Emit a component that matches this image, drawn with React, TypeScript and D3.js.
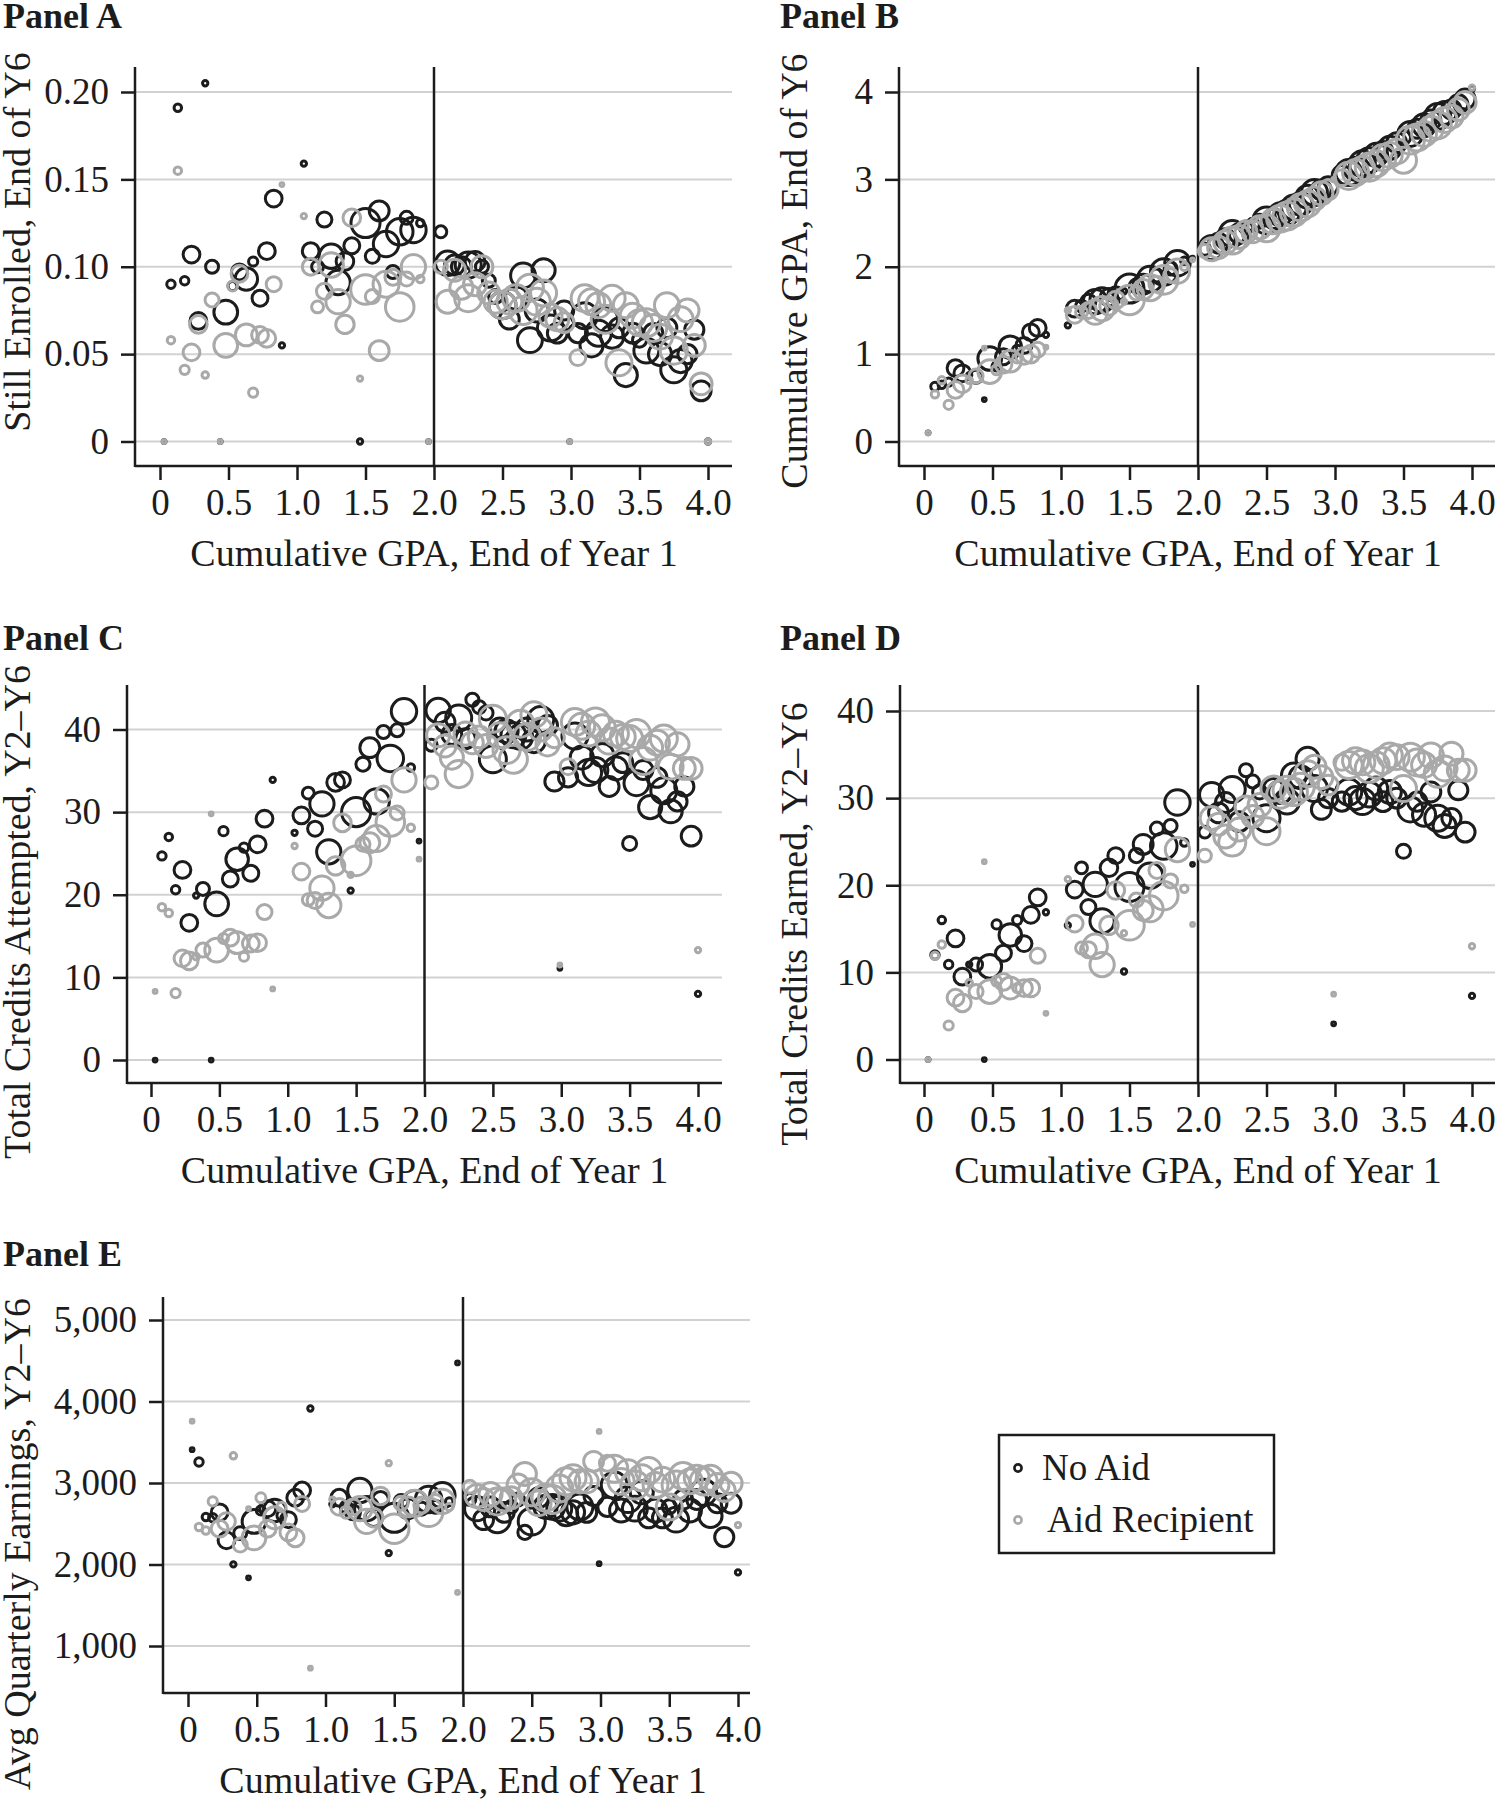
import React, { useEffect, useRef } from 'react'
import * as d3 from 'd3'

// GPA bins, end of year 1 (shared by every panel)
const gpaBins = [
  0.03, 0.08, 0.13, 0.18, 0.23, 0.28, 0.33, 0.38, 0.44, 0.48, 0.53, 0.58, 0.63, 0.68, 0.73, 0.78, 0.83, 0.89,
  1.05, 1.1, 1.15, 1.2, 1.25, 1.3, 1.35, 1.4, 1.46, 1.5, 1.55, 1.6, 1.65, 1.7, 1.75, 1.8, 1.85, 1.9, 1.96,
  2.05, 2.1, 2.15, 2.2, 2.25, 2.3, 2.35, 2.4, 2.45, 2.5, 2.55, 2.6, 2.65, 2.7, 2.75, 2.8, 2.85, 2.9, 2.95, 2.99,
  3.05, 3.1, 3.15, 3.2, 3.25, 3.3, 3.35, 3.4, 3.45, 3.5, 3.55, 3.6, 3.65, 3.7, 3.75, 3.8, 3.85, 3.9, 3.95, 4.0,
]

// bin counts (marker size)
const noAidN = [
  1, 5, 4, 5, 20, 20, 2, 12, 1, 40, 6, 18, 36, 6, 18, 20, 20, 2,
  2, 20, 10, 16, 42, 42, 22, 18, 2, 60, 14, 28, 46, 12, 50, 12, 46, 4, 1,
  10, 42, 28, 28, 48, 28, 12, 12, 14, 52, 28, 38, 44, 44, 38, 38, 48, 28, 26, 1,
  26, 48, 38, 48, 44, 38, 28, 38, 28, 14, 44, 26, 38, 28, 48, 38, 26, 26, 28, 2,
]
const aidN = [
  1, 4, 4, 6, 20, 22, 3, 14, 1, 40, 7, 20, 34, 6, 20, 22, 16, 1,
  2, 20, 10, 18, 42, 42, 24, 22, 2, 62, 14, 28, 48, 18, 58, 14, 42, 4, 1,
  12, 38, 34, 38, 52, 38, 34, 34, 38, 52, 44, 52, 56, 52, 52, 48, 38, 38, 28, 1,
  18, 52, 48, 44, 56, 48, 48, 44, 44, 48, 56, 52, 44, 44, 52, 44, 38, 34, 34, 2,
]

// Panel A: still enrolled, end of Y6
const enrolledNoAid = [
  0, 0.09, 0.191, 0.092, 0.107, 0.069, 0.205, 0.1, 0, 0.074, 0.089, 0.097, 0.093, 0.103, 0.082, 0.109, 0.139, 0.055,
  0.159, 0.109, 0.1, 0.127, 0.106, 0.091, 0.103, 0.112, 0, 0.125, 0.106, 0.132, 0.113, 0.097, 0.12, 0.128, 0.121, 0.125, 0,
  0.12, 0.102, 0.101, 0.1, 0.101, 0.103, 0.1, 0.092, 0.083, 0.078, 0.07, 0.082, 0.095, 0.058, 0.075, 0.098, 0.065, 0.062, 0.075, 0,
  0.062, 0.072, 0.055, 0.062, 0.07, 0.06, 0.065, 0.038, 0.062, 0.058, 0.052, 0.062, 0.05, 0.065, 0.041, 0.046, 0.05, 0.064, 0.029, 0,
]
const enrolledAid = [
  0, 0.058, 0.155, 0.041, 0.051, 0.067, 0.038, 0.081, 0, 0.055, 0.089, 0.096, 0.061, 0.028, 0.061, 0.059, 0.09, 0.147,
  0.129, 0.1, 0.077, 0.086, 0.101, 0.08, 0.067, 0.128, 0.036, 0.087, 0.083, 0.052, 0.09, 0.094, 0.077, 0.093, 0.1, 0.093, 0,
  0.1, 0.08, 0.098, 0.088, 0.082, 0.09, 0.1, 0.085, 0.08, 0.078, 0.08, 0.082, 0.075, 0.088, 0.08, 0.085, 0.072, 0.07, 0.068, 0,
  0.048, 0.082, 0.08, 0.078, 0.07, 0.082, 0.045, 0.078, 0.072, 0.068, 0.068, 0.065, 0.06, 0.078, 0.052, 0.07, 0.075, 0.055, 0.033, 0,
]

// Panel B: cumulative GPA, end of Y6
const gpaY6NoAid = [
  0.1, 0.63, 0.65, 0.68, 0.84, 0.78, 0.76, 0.74, 0.48, 0.95, 0.86, 0.97, 1.08, 1.05, 1.1, 1.25, 1.3, 1.22,
  1.33, 1.52, 1.55, 1.6, 1.6, 1.62, 1.65, 1.68, 1.72, 1.75, 1.78, 1.8, 1.86, 1.9, 1.94, 1.98, 2.04, 2.07, 2.1,
  2.2, 2.22, 2.27, 2.32, 2.38, 2.38, 2.45, 2.48, 2.52, 2.53, 2.55, 2.6, 2.62, 2.68, 2.72, 2.8, 2.85, 2.88, 2.92, 3.0,
  3.05, 3.08, 3.12, 3.18, 3.22, 3.28, 3.32, 3.36, 3.42, 3.48, 3.52, 3.58, 3.62, 3.68, 3.72, 3.76, 3.8, 3.86, 3.92, 4.04,
]
const gpaY6Aid = [
  0.1, 0.54, 0.7, 0.42, 0.59, 0.66, 0.7, 0.75, 1.07, 0.8, 0.82, 0.88, 0.92, 0.95, 0.98, 1.0, 1.05, 1.08,
  1.5, 1.45, 1.48, 1.5, 1.48, 1.52, 1.55, 1.62, 1.6, 1.62, 1.7, 1.74, 1.76, 1.8, 1.85, 1.9, 1.95, 2.0, 2.08,
  2.18, 2.2, 2.22, 2.28, 2.3, 2.34, 2.4, 2.4, 2.45, 2.44, 2.52, 2.55, 2.58, 2.62, 2.68, 2.72, 2.78, 2.84, 2.88, 3.0,
  3.02, 3.04, 3.08, 3.12, 3.14, 3.18, 3.25, 3.28, 3.32, 3.22, 3.45, 3.48, 3.52, 3.58, 3.62, 3.68, 3.72, 3.8, 3.88, 4.05,
]

// Panel C: total credits attempted, Y2-Y6
const attemptedNoAid = [
  0, 24.7, 27, 20.6, 23, 16.6, 19.9, 20.7, 0, 18.9, 27.7, 21.9, 24.3, 25.7, 22.6, 26.1, 29.2, 33.9,
  27.5, 29.6, 32.3, 28, 31, 25.2, 33.6, 33.9, 20.5, 30, 35.8, 37.8, 31.3, 39.7, 36.5, 39.9, 42.2, 35.4, 26.5,
  38.1, 42.3, 40.9, 39.4, 41.4, 38.9, 43.6, 42.7, 42, 36.4, 40.2, 39.8, 39.3, 39.1, 40, 38.6, 41.2, 40.5, 33.7, 11.1,
  34.2, 39.2, 36.6, 34.8, 35.1, 36.9, 33.1, 35.3, 36, 26.2, 33.5, 35.1, 30.6, 34.2, 32.6, 30.1, 31.3, 33.1, 27.1, 8,
]
const attemptedAid = [
  8.3, 18.5, 17.8, 8.1, 12.3, 12, 12.5, 13.3, 29.8, 13.3, 14.7, 14.8, 14.2, 12.5, 14.1, 14.2, 17.9, 8.6,
  25.9, 22.8, 19.4, 19.3, 20.8, 18.7, 23.5, 28.7, 22.4, 24.1, 26.1, 26.3, 26.8, 32.2, 28.8, 29.9, 33.9, 28.1, 24.3,
  33.6, 39.3, 38, 36.6, 34.6, 39.5, 38.4, 39.1, 38, 41.3, 39.3, 37.5, 36.4, 40.7, 39.1, 41.8, 40, 38.2, 39, 11.5,
  35.5, 40.9, 40.4, 39.5, 40.9, 40.2, 38.6, 39.5, 39.1, 38.9, 39.5, 36.2, 37.8, 38.4, 38.9, 35.5, 38.2, 35.3, 35.3, 13.3,
]

// Panel D: total credits earned, Y2-Y6
const earnedNoAid = [
  0, 12, 16, 10.9, 13.9, 9.5, 10.9, 10.9, 0, 10.7, 15.5, 12.2, 14.3, 16, 13.3, 16.6, 18.6, 16.9,
  15.4, 19.5, 22, 17.5, 20.1, 15.9, 22, 23.4, 10.1, 19.8, 23.4, 24.7, 21.1, 26.5, 24.5, 26.8, 29.5, 24.9, 22.4,
  26.1, 30.4, 28.3, 29.5, 31, 27.3, 33.2, 31.9, 30.7, 27.7, 31.1, 30.7, 29.6, 32.6, 32.4, 34.5, 31.1, 28.7, 30, 4.1,
  29.6, 30.7, 30, 29.6, 30.4, 31.1, 29.6, 30.7, 30, 23.9, 28.7, 29.6, 28.1, 30.7, 27.7, 26.8, 27.7, 30.9, 26.1, 7.3,
]
const earnedAid = [
  0, 11.9, 13.2, 3.9, 7.1, 6.5, 8.8, 7.8, 22.7, 7.8, 9, 8.9, 8.2, 8.2, 8.2, 8.2, 11.9, 5.3,
  20.7, 15.6, 12.8, 12.6, 13, 10.9, 15.4, 19.4, 14.5, 15.4, 18.3, 17.1, 17.3, 21.7, 18.8, 20.5, 24.1, 19.6, 15.5,
  23.4, 27.7, 27, 25.6, 24.9, 26.4, 29, 27.9, 29.2, 26.2, 31.1, 30.4, 30.9, 30.7, 31.3, 32.8, 33.6, 32.4, 31.5, 7.5,
  34.1, 33.8, 34.3, 34.1, 33.4, 33.8, 34.3, 34.9, 34.7, 31.1, 34.7, 34.1, 33.8, 34.9, 32.8, 33.4, 35.1, 33.2, 33.2, 13,
]

// Panel E: avg quarterly earnings, Y2-Y6
const earningsNoAid = [
  3409, 3257, 2582, 2573, 2640, 2296, 2001, 2385, 1836, 2528, 2663, 2685, 2663, 2600, 2550, 2819, 2908, 3914,
  2740, 2819, 2707, 2640, 2908, 2685, 2573, 2797, 2140, 2573, 2774, 2685, 2752, 2685, 2797, 2707, 2850, 2774, 4473,
  2797, 2685, 2550, 2707, 2550, 2640, 2707, 2797, 2394, 2528, 2819, 2707, 2707, 2685, 2618, 2640, 2707, 2640, 2841, 2010,
  2707, 2975, 2663, 2797, 2685, 2886, 2573, 2663, 2573, 2707, 2550, 2797, 2663, 2797, 2886, 2596, 2752, 2336, 2752, 1903,
]
const earningsAid = [
  3758, 2461, 2417, 2774, 2439, 2528, 3333, 2238, 2685, 2327, 2819, 2439, 2573, 2707, 2394, 2327, 2743, 727,
  2797, 2707, 2640, 2707, 2685, 2528, 2573, 2841, 3243, 2439, 2752, 2707, 2752, 2730, 2640, 2774, 2774, 2707, 1657,
  2953, 2841, 2797, 2864, 2774, 2797, 2819, 2975, 3110, 2886, 2752, 2819, 2797, 2931, 3020, 3065, 3020, 3020, 3266, 3632,
  3243, 3176, 3020, 3132, 2975, 3065, 3154, 2975, 3042, 2707, 2975, 3087, 3020, 3065, 3020, 3065, 2975, 2908, 2998, 2484,
]

const xTicks = [0, 0.5, 1, 1.5, 2, 2.5, 3, 3.5, 4]
const xTickLabels = ['0', '0.5', '1.0', '1.5', '2.0', '2.5', '3.0', '3.5', '4.0']
const xTitle = 'Cumulative GPA, End of Year 1'
const seriesNames = ['No Aid', 'Aid Recipient']

const FONT = '"Liberation Serif", "Times New Roman", serif'
const INK = '#1c1c1c'
const GREY = '#a9a9a9'

const panels = [
  {
    name: 'Panel A', yTitle: 'Still Enrolled, End of Y6', noAid: enrolledNoAid, aid: enrolledAid,
    yDomain: [0, 0.2], yTicks: [0, 0.05, 0.1, 0.15, 0.2], yTickLabels: ['0', '0.05', '0.10', '0.15', '0.20'],
    axisX: 135, x0: 160, x4: 708, right: 732, top: 67, base: 466, yRange: [441.5, 92],
    label: [3, 28], yTitlePos: [30, 242],
  },
  {
    name: 'Panel B', yTitle: 'Cumulative GPA, End of Y6', noAid: gpaY6NoAid, aid: gpaY6Aid,
    yDomain: [0, 4], yTicks: [0, 1, 2, 3, 4], yTickLabels: ['0', '1', '2', '3', '4'],
    axisX: 899, x0: 924, x4: 1472, right: 1495, top: 67, base: 466, yRange: [441.5, 92],
    label: [780, 28], yTitlePos: [807, 271],
  },
  {
    name: 'Panel C', yTitle: 'Total Credits Attempted, Y2\u2013Y6', noAid: attemptedNoAid, aid: attemptedAid,
    yDomain: [0, 40], yTicks: [0, 10, 20, 30, 40], yTickLabels: ['0', '10', '20', '30', '40'],
    axisX: 127, x0: 151, x4: 698, right: 722, top: 685, base: 1083, yRange: [1060, 729.5],
    label: [3, 650], yTitlePos: [30, 912],
  },
  {
    name: 'Panel D', yTitle: 'Total Credits Earned, Y2\u2013Y6', noAid: earnedNoAid, aid: earnedAid,
    yDomain: [0, 40], yTicks: [0, 10, 20, 30, 40], yTickLabels: ['0', '10', '20', '30', '40'],
    axisX: 900, x0: 924, x4: 1472, right: 1495, top: 685, base: 1083, yRange: [1059.5, 711],
    label: [780, 650], yTitlePos: [807, 924],
  },
  {
    name: 'Panel E', yTitle: 'Avg Quarterly Earnings, Y2\u2013Y6', noAid: earningsNoAid, aid: earningsAid,
    yDomain: [1000, 5000], yTicks: [1000, 2000, 3000, 4000, 5000], yTickLabels: ['1,000', '2,000', '3,000', '4,000', '5,000'],
    axisX: 163, x0: 188, x4: 738, right: 750, top: 1297, base: 1693, yRange: [1646, 1320],
    label: [3, 1266], yTitlePos: [30, 1544],
  },
]

const radius = d3.scaleSqrt().domain([0, 64]).range([0, 15])

function drawPanel(svg: any, p: any) {
  const x = d3.scaleLinear().domain([0, 4]).range([p.x0, p.x4])
  const y = d3.scaleLinear().domain(p.yDomain).range(p.yRange)
  const g = svg.append('g')

  // gridlines
  g.append('g').selectAll('line').data(p.yTicks).join('line')
    .attr('x1', p.axisX).attr('x2', p.right)
    .attr('y1', (d: number) => y(d)).attr('y2', (d: number) => y(d))
    .attr('stroke', '#d2d2d2').attr('stroke-width', 2)

  // axes
  const yAxis = d3.axisLeft(y).tickValues(p.yTicks)
    .tickFormat((d: any, i: number) => p.yTickLabels[i]).tickSize(14).tickPadding(12)
  const yg = g.append('g').attr('transform', `translate(${p.axisX},0)`).call(yAxis)
  yg.select('.domain').remove()

  const xAxis = d3.axisBottom(x).tickValues(xTicks)
    .tickFormat((d: any, i: number) => xTickLabels[i]).tickSize(14).tickPadding(9)
  const xg = g.append('g').attr('transform', `translate(0,${p.base})`).call(xAxis)
  xg.select('.domain').remove()

  ;[yg, xg].forEach((a: any) => {
    a.attr('font-size', 37).attr('font-family', FONT).attr('color', INK)
    a.selectAll('.tick line').attr('stroke-width', 2.5)
  })

  g.append('line').attr('x1', p.axisX).attr('x2', p.axisX).attr('y1', p.top).attr('y2', p.base + 1)
    .attr('stroke', INK).attr('stroke-width', 2.5)
  g.append('line').attr('x1', p.axisX).attr('x2', p.right).attr('y1', p.base).attr('y2', p.base)
    .attr('stroke', INK).attr('stroke-width', 2.5)
  // cutoff at GPA 2.0
  g.append('line').attr('x1', x(2)).attr('x2', x(2)).attr('y1', p.top).attr('y2', p.base)
    .attr('stroke', INK).attr('stroke-width', 2.5)

  // bubbles
  const series = [
    { vals: p.noAid, n: noAidN, color: INK },
    { vals: p.aid, n: aidN, color: GREY },
  ]
  series.forEach(s => {
    g.append('g').selectAll('circle')
      .data(gpaBins.map((b, i) => ({ gpa: b, v: s.vals[i], n: s.n[i] })))
      .join('circle')
      .attr('cx', (d: any) => x(d.gpa))
      .attr('cy', (d: any) => y(d.v))
      .attr('r', (d: any) => radius(d.n))
      .attr('fill', 'none')
      .attr('stroke', s.color)
      .attr('stroke-width', 3)
  })

  // titles
  g.append('text').attr('x', p.label[0]).attr('y', p.label[1])
    .attr('font-family', FONT).attr('font-weight', 'bold').attr('font-size', 36).attr('fill', INK)
    .text(p.name)
  g.append('text')
    .attr('transform', `translate(${p.yTitlePos[0]},${p.yTitlePos[1]}) rotate(-90)`)
    .attr('text-anchor', 'middle').attr('font-family', FONT).attr('font-size', 38).attr('fill', INK)
    .text(p.yTitle)
  g.append('text').attr('x', x(2)).attr('y', p.base + 100)
    .attr('text-anchor', 'middle').attr('font-family', FONT).attr('font-size', 38).attr('fill', INK)
    .text(xTitle)
}

const App = () => {
  const chart = useRef<SVGSVGElement>(null)

  useEffect(() => {
    const svg = d3.select(chart.current)
    svg.selectAll('*').remove()
    svg.append('rect').attr('width', 1497).attr('height', 1800).attr('fill', '#fff')

    panels.forEach(p => drawPanel(svg, p))

    // legend
    const lg = svg.append('g')
    lg.append('rect').attr('x', 999).attr('y', 1435).attr('width', 275).attr('height', 118)
      .attr('fill', '#fff').attr('stroke', INK).attr('stroke-width', 2.5)
    const colors = [INK, GREY]
    seriesNames.forEach((name, i) => {
      const cy = 1468 + i * 52
      lg.append('circle').attr('cx', 1018).attr('cy', cy).attr('r', 3.6)
        .attr('fill', 'none').attr('stroke', colors[i]).attr('stroke-width', 2.6)
      lg.append('text').attr('x', i === 0 ? 1042 : 1047).attr('y', cy + 12)
        .attr('font-family', FONT).attr('font-size', 37).attr('fill', INK)
        .text(name)
    })
  }, [])

  return (
    <div style={{ position: 'absolute', left: 0, top: 0 }}>
      <svg ref={chart} width={1497} height={1800}></svg>
    </div>
  )
}

export default App
